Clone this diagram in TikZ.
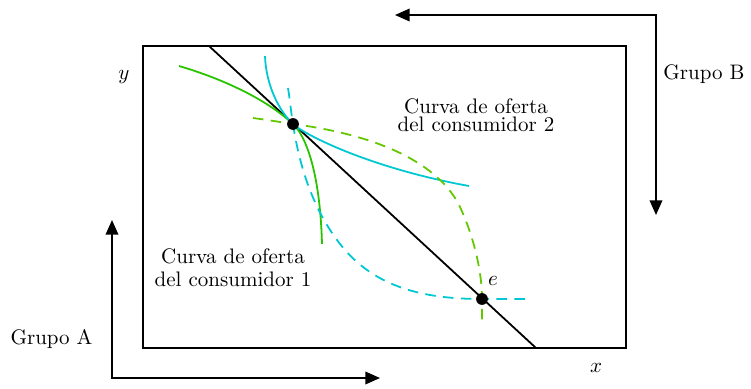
\documentclass[tikz,border=0pt]{standalone}
\usetikzlibrary{arrows.meta}
\definecolor{gsolid}{RGB}{40,196,0}
\definecolor{gdash}{RGB}{100,200,0}
\definecolor{cyanc}{RGB}{0,200,210}
\begin{document}
\begin{tikzpicture}[x=0.476pt,y=-0.476pt,
  frame/.style={line width=0.85pt},
  curve/.style={line width=0.85pt},
  dcurve/.style={line width=0.85pt,dash pattern=on 5pt off 3.5pt},
  arr/.style={line width=0.85pt,{Triangle[length=7pt,width=6pt]}-{Triangle[length=7pt,width=6pt]}},
  dot/.style={circle,fill=black,inner sep=0pt,minimum size=5.6pt},
  lbl/.style={font=\normalsize,inner sep=0pt}]
\useasboundingbox (0,0) rectangle (751,388);
% frame
\draw[frame] (143,46) rectangle (626,348);
% budget line
\coordinate (b1) at (209,46);
\coordinate (b2) at (536,348);
\draw[frame] (b1) -- (b2);
% group arrows
\coordinate (Bl) at (395,15);
\coordinate (Bc) at (656,15);
\coordinate (Bd) at (656,215);
\draw[arr] (Bl) -- (Bc) -- (Bd);
\coordinate (Au) at (112,220);
\coordinate (Ac) at (112,378);
\coordinate (Ar) at (380,378);
\draw[arr] (Au) -- (Ac) -- (Ar);
% points (coordinates)
\coordinate (P) at (293,124);
\coordinate (E) at (482,299);
% indifference curves
\draw[curve,gsolid] (179,66) .. controls (220,78) and (265,98) .. (P)
   .. controls (305,135) and (320,170) .. (322,244);
\draw[curve,cyanc] (265,56) .. controls (266,85) and (279,111) .. (P)
   .. controls (305,135) and (370,168) .. (469,186);
% offer curves
\draw[dcurve,cyanc] (288,88) .. controls (290,100) and (291,112) .. (P)
   .. controls (300,170) and (315,215) .. (345,250)
   .. controls (380,290) and (430,299) .. (E) -- (528,299);
\draw[dcurve,gdash] (253,118) .. controls (268,120) and (280,122) .. (P)
   .. controls (400,138) and (445,175) .. (460,207)
   .. controls (470,228) and (482,265) .. (E) -- (482,326);
% points
\node[dot] (p1) at (P) {};
\node[dot] (pe) at (E) {};
% labels
\node[lbl,anchor=base] (le) at (493,285) {$e$};
\node[lbl,anchor=base] (ly) at (124,79) {$y$};
\node[lbl,anchor=base] (lx) at (596,372) {$x$};
\node[lbl,anchor=base] (gB) at (704,79) {Grupo B};
\node[lbl,anchor=base] (gA) at (51.5,344) {Grupo A};
\node[lbl,align=center] (c2) at (476,115) {Curva de oferta\\[-3.5pt]del consumidor 2};
\node[lbl,align=center] (c1) at (233,268) {Curva de oferta\\[-1pt]del consumidor 1};
\end{tikzpicture}
\end{document}
